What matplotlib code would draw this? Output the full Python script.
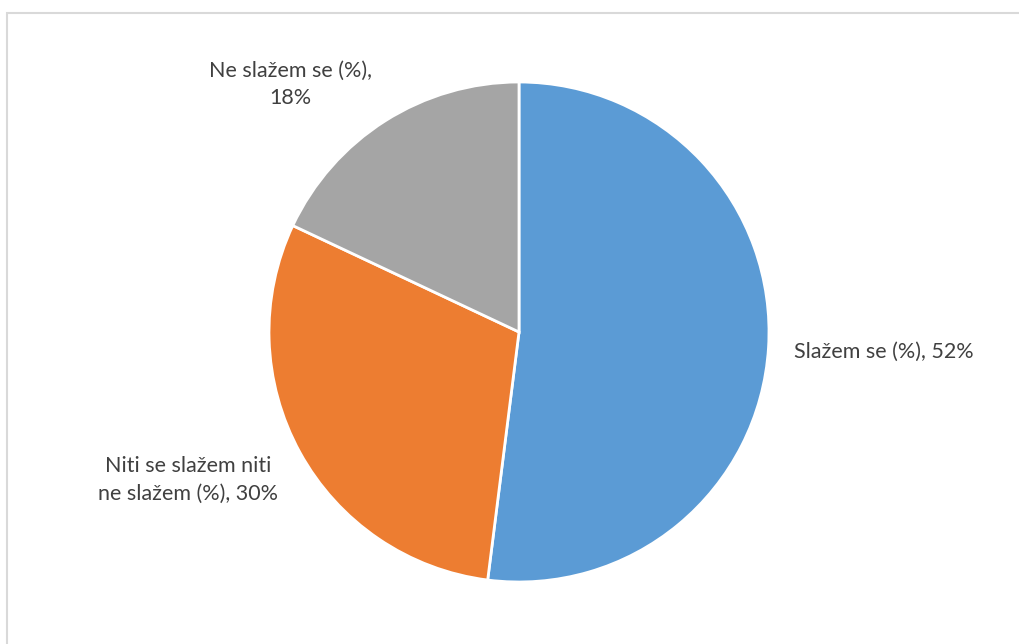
import matplotlib.pyplot as plt
from matplotlib.patches import Rectangle

# survey answers
labels = ["Slažem se (%)", "Niti se slažem niti\nne slažem (%)", "Ne slažem se (%)"]
shares = [52, 30, 18]
colors = ["#5B9BD5", "#ED7D31", "#A5A5A5"]

fig = plt.figure(figsize=(10.2, 6.44), dpi=100)

# light frame around the chart area
fig.patches.append(Rectangle((7 / 1020, -0.01), 1.02, 631 / 644 + 0.01,
                             transform=fig.transFigure, fill=False,
                             edgecolor="#D9D9D9", linewidth=1.5))

ax = fig.add_axes([269 / 1020, 62 / 644, 500 / 1020, 500 / 644])
ax.pie(shares, colors=colors, startangle=90, counterclock=False, radius=1,
       wedgeprops=dict(edgecolor="white", linewidth=2))
ax.set_xlim(-1, 1)
ax.set_ylim(-1, 1)
ax.set_aspect("equal")
ax.axis("off")

# data labels placed outside the pie
label_pos = [(1.10, -0.08, "left"), (-1.324, -0.592, "center"), (-0.916, 0.99, "center")]
for lab, val, (x, y, ha) in zip(labels, shares, label_pos):
    if lab.startswith("Ne"):
        txt = lab + ",\n" + str(val) + "%"
    else:
        txt = lab + ", " + str(val) + "%"
    ax.text(x, y, txt, ha=ha, va="center", fontsize=15.5, color="#404040",
            family="Lato", linespacing=1.45, clip_on=False)

fig.savefig("out.png", dpi=100)
